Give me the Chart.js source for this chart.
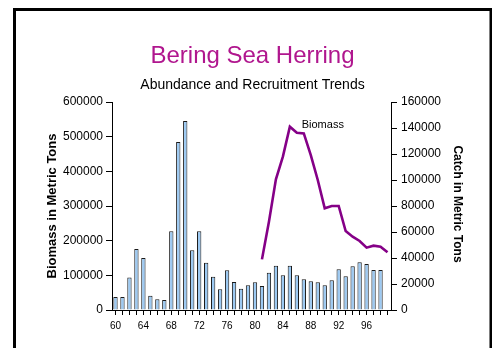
<!DOCTYPE html>
<html>
<head>
<meta charset="utf-8">
<title>Bering Sea Herring</title>
<script src="https://cdn.jsdelivr.net/npm/chart.js@4.4.1/dist/chart.umd.min.js"></script>
<style>
  html, body { margin: 0; padding: 0; background: #ffffff; }
  #wrap { position: relative; width: 492px; height: 348px; }
  canvas { display: block; }
</style>
</head>
<body>
<div id="wrap"><canvas id="chart" width="492" height="348"></canvas></div>
<script>
// Years 1960-1999 (two-digit labels)
const years = ['60','61','62','63','64','65','66','67','68','69',
               '70','71','72','73','74','75','76','77','78','79',
               '80','81','82','83','84','85','86','87','88','89',
               '90','91','92','93','94','95','96','97','98','99'];

// Labels shown on the year axis
const yearTickLabels = ['60','64','68','72','76','80','84','88','92','96'];

// Catch in metric tons (bars, right axis)
const catchTons = [10000, 10000, 25000, 47000, 40000, 11000, 8200, 7700, 60500, 129200,
                   145400, 45900, 60500, 36400, 25600, 15900, 30500, 21500, 16400, 19000,
                   21300, 18500, 28700, 34100, 26700, 34100, 26700, 23600, 22100, 21300,
                   19000, 22800, 31300, 25900, 33600, 36700, 35400, 30800, 30800, null];

// Biomass in metric tons (line, left axis), estimates start in 1981
const biomassTons = [null, null, null, null, null, null, null, null, null, null,
                     null, null, null, null, null, null, null, null, null, null,
                     null, 146000, 254800, 377000, 442300, 528800, 511500, 509600, 447000, 375000,
                     293300, 300000, 300000, 227900, 211500, 199000, 179800, 185500, 182600, 166400];

// Axis tick values
const biomassTicks = [0, 100000, 200000, 300000, 400000, 500000, 600000];
const catchTicks = [0, 20000, 40000, 60000, 80000, 100000, 120000, 140000, 160000];

const FONT = "'Liberation Sans', Arial, Helvetica, sans-serif";
Chart.defaults.font.family = FONT;
Chart.defaults.color = '#000000';

// Frame, headings, axis titles and the series callout
const decorations = {
  id: 'decorations',
  beforeDraw(chart) {
    const ctx = chart.ctx;
    ctx.save();
    ctx.fillStyle = '#ffffff';
    ctx.fillRect(0, 0, chart.width, chart.height);
    ctx.restore();
  },
  afterDraw(chart) {
    const ctx = chart.ctx;
    const area = chart.chartArea;
    const x = chart.scales.x;
    const yB = chart.scales.y;
    ctx.save();

    // outer frame
    ctx.strokeStyle = '#000000';
    ctx.lineWidth = 3;
    ctx.beginPath();
    ctx.moveTo(14.5, chart.height + 10);
    ctx.lineTo(14.5, 9.5);
    ctx.lineTo(491, 9.5);
    ctx.lineTo(491, chart.height + 10);
    ctx.stroke();

    // headings
    const cx = (area.left + area.right) / 2 + 1;
    ctx.textAlign = 'center';
    ctx.textBaseline = 'alphabetic';
    ctx.fillStyle = '#b0168e';
    ctx.font = '24px ' + FONT;
    ctx.fillText('Bering Sea Herring', cx, 63);
    ctx.fillStyle = '#000000';
    ctx.font = '14px ' + FONT;
    ctx.fillText('Abundance and Recruitment Trends', cx, 89);

    // axis titles
    const midY = (area.top + area.bottom) / 2;
    ctx.font = 'bold 13px ' + FONT;
    ctx.textBaseline = 'middle';
    ctx.save();
    ctx.translate(area.left - 60, midY);
    ctx.rotate(-Math.PI / 2);
    ctx.fillText('Biomass in Metric Tons', 0, 0);
    ctx.restore();

    ctx.font = 'bold 12px ' + FONT;
    ctx.save();
    ctx.translate(area.right + 66, midY - 2);
    ctx.rotate(Math.PI / 2);
    ctx.fillText('Catch in Metric Tons', 0, 0);
    ctx.restore();

    // callout beside the biomass peak
    ctx.font = '11px ' + FONT;
    ctx.textAlign = 'left';
    ctx.textBaseline = 'middle';
    ctx.fillText('Biomass', x.getPixelForValue(26.7), yB.getPixelForValue(535000));

    ctx.restore();
  }
};

const plainNumber = (value) => String(value);

new Chart(document.getElementById('chart'), {
  data: {
    labels: years,
    datasets: [
      {
        type: 'line',
        label: 'Biomass',
        data: biomassTons,
        yAxisID: 'y',
        borderColor: '#850087',
        borderWidth: 2.6,
        pointRadius: 0,
        tension: 0,
        spanGaps: false,
        order: 0
      },
      {
        type: 'bar',
        label: 'Catch',
        data: catchTons,
        yAxisID: 'y1',
        backgroundColor: '#9cc9f2',
        borderColor: '#1a1a1a',
        borderWidth: 1,
        borderSkipped: 'start',
        categoryPercentage: 1,
        barPercentage: 0.62,
        order: 1
      }
    ]
  },
  options: {
    responsive: false,
    animation: false,
    devicePixelRatio: 1,
    layout: { padding: { top: 102, left: 0, right: 0, bottom: 0 } },
    plugins: {
      legend: { display: false },
      title: { display: false },
      tooltip: { enabled: false }
    },
    scales: {
      x: {
        type: 'category',
        offset: true,
        grid: {
          offset: false,
          drawOnChartArea: false,
          drawTicks: true,
          tickLength: 5,
          color: '#000000'
        },
        border: { color: '#000000', width: 1 },
        ticks: {
          autoSkip: false,
          maxRotation: 0,
          padding: 5,
          font: { size: 10 },
          callback: function (value) {
            const lbl = this.getLabelForValue(value);
            return yearTickLabels.includes(lbl) ? lbl : '';
          }
        },
        afterFit(scale) { scale.height = 38; }
      },
      y: {
        type: 'linear',
        position: 'left',
        min: 0,
        max: 600000,
        afterBuildTicks(scale) { scale.ticks = biomassTicks.map(v => ({ value: v })); },
        grid: { drawOnChartArea: false, tickLength: 6, color: '#000000' },
        border: { color: '#000000', width: 1 },
        ticks: { padding: 3, font: { size: 12 }, color: '#000000', callback: plainNumber },
        afterFit(scale) { scale.width = 112; }
      },
      y1: {
        type: 'linear',
        position: 'right',
        min: 0,
        max: 160000,
        afterBuildTicks(scale) { scale.ticks = catchTicks.map(v => ({ value: v })); },
        grid: { drawOnChartArea: false, tickLength: 6, color: '#000000' },
        border: { color: '#000000', width: 1 },
        ticks: { padding: 4, font: { size: 12 }, color: '#000000', callback: plainNumber },
        afterFit(scale) { scale.width = 101; }
      }
    }
  },
  plugins: [decorations]
});
</script>
</body>
</html>
